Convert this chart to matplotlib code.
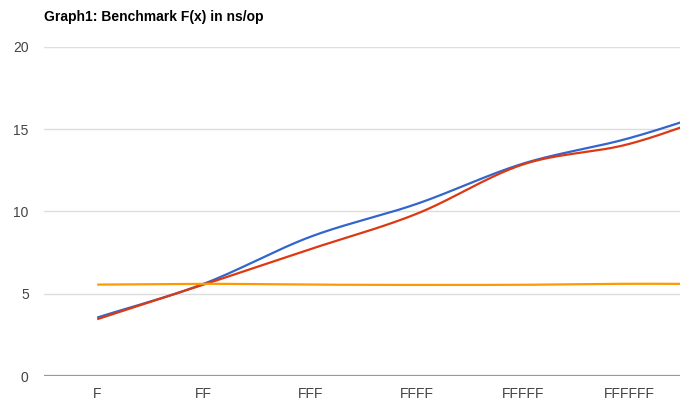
import numpy as np
import matplotlib
matplotlib.use("Agg")
import matplotlib.pyplot as plt

plt.rcParams['font.family'] = ['Liberation Sans', 'DejaVu Sans']

categories = ["F", "FF", "FFF", "FFFF", "FFFFF", "FFFFFF", "FFFFFFF"]
series_blue = [3.55, 5.6, 8.45, 10.45, 12.9, 14.45, 16.5]
series_red = [3.45, 5.55, 7.7, 9.85, 12.85, 14.1, 16.3]
series_orange = [5.55, 5.6, 5.55, 5.53, 5.54, 5.6, 5.58]
y_ticks = [0, 5, 10, 15, 20]
title = "Graph1: Benchmark F(x) in ns/op"


def smooth(xs, ys, n=40):
    xs = np.asarray(xs, float)
    ys = np.asarray(ys, float)
    px = np.concatenate([[2 * xs[0] - xs[1]], xs, [2 * xs[-1] - xs[-2]]])
    py = np.concatenate([[2 * ys[0] - ys[1]], ys, [2 * ys[-1] - ys[-2]]])
    outx, outy = [], []
    for i in range(1, len(px) - 2):
        t = np.linspace(0, 1, n)
        p0, p1, p2, p3 = py[i - 1], py[i], py[i + 1], py[i + 2]
        y = 0.5 * ((2 * p1) + (-p0 + p2) * t + (2 * p0 - 5 * p1 + 4 * p2 - p3) * t ** 2
                   + (-p0 + 3 * p1 - 3 * p2 + p3) * t ** 3)
        x = px[i] + (px[i + 1] - px[i]) * t
        outx.append(x)
        outy.append(y)
    return np.concatenate(outx), np.concatenate(outy)


fig = plt.figure(figsize=(6.8, 4.08), dpi=100)
ax = fig.add_axes([44 / 680, (408 - 376) / 408, 636 / 680, (376 - 46.7) / 408])

x = np.arange(len(categories))
for ys, c in [(series_blue, "#3366cc"), (series_red, "#dc3912"), (series_orange, "#ff9900")]:
    sx, sy = smooth(x, ys)
    ax.plot(sx, sy, color=c, lw=1.6, solid_capstyle='butt', zorder=3)

ax.set_yticks(y_ticks)
ax.set_yticklabels([str(v) for v in y_ticks])
ax.set_xticks(x)
ax.set_xticklabels(categories)
ax.set_ylim(0, 20)
ax.set_xlim(-0.5, (680 - 97) / 106.5)
for v in y_ticks[1:]:
    ax.axhline(v, color="#dddddd", lw=1.0, zorder=1)
ax.axhline(0, color="#999999", lw=1.6, zorder=2)
for s in ax.spines.values():
    s.set_visible(False)
ax.tick_params(axis='both', length=0, labelsize=10, colors="#444444")
ax.tick_params(axis='y', pad=11)
ax.tick_params(axis='x', pad=8)

fig.text(44 / 680, 1 - 17 / 408, title, fontsize=10, fontweight='bold', va='center', ha='left', color='#000000')

fig.savefig("out.png", dpi=100)
